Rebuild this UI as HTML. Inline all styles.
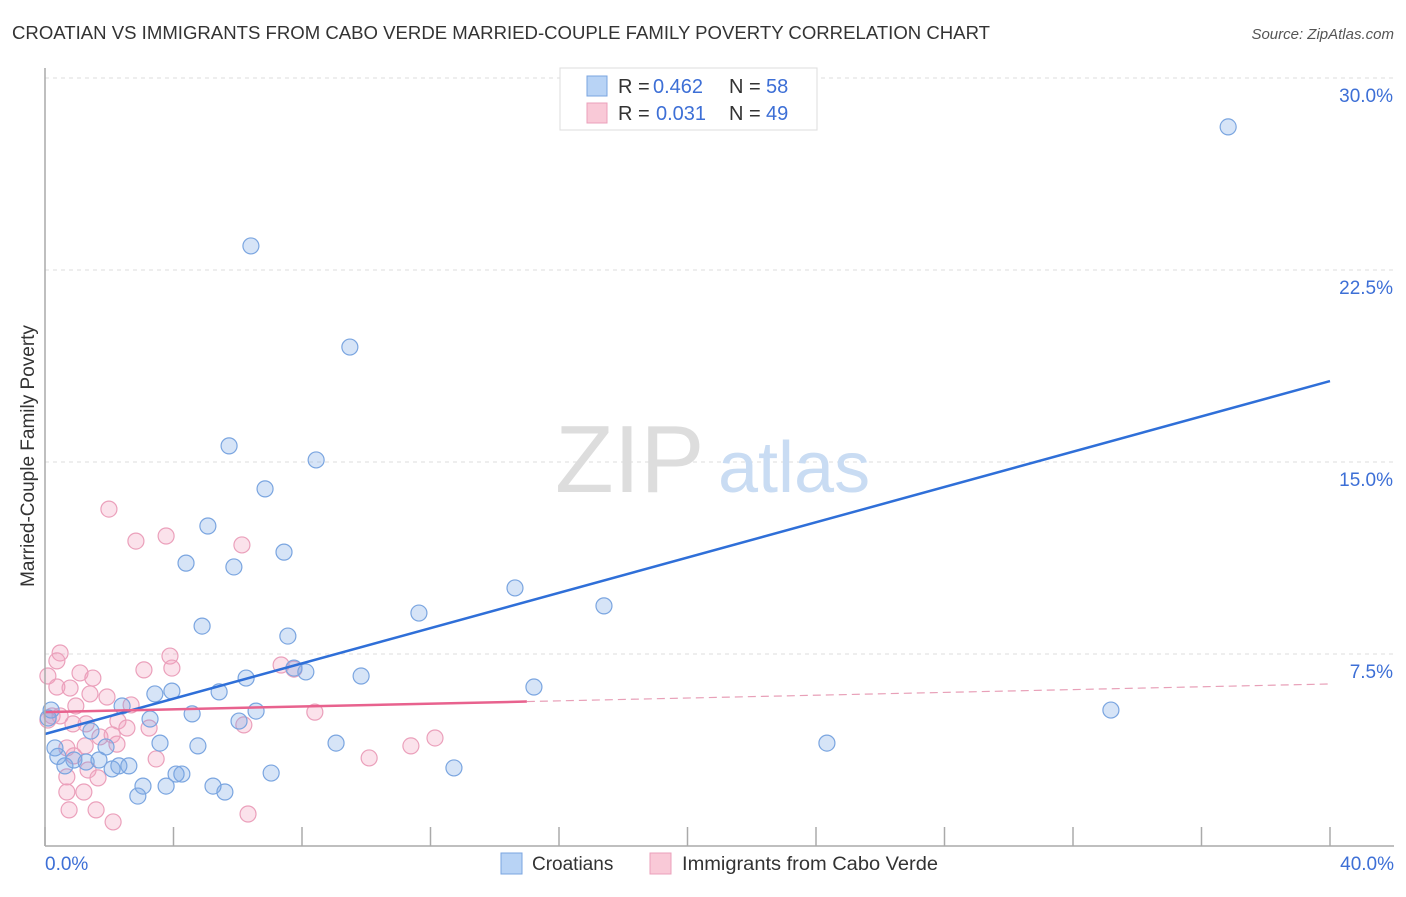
<!DOCTYPE html>
<html><head><meta charset="utf-8">
<style>
body{margin:0;background:#fff;font-family:"Liberation Sans",sans-serif;}
svg text{font-family:"Liberation Sans",sans-serif;}
</style></head>
<body>
<svg id="chart" width="1406" height="892" viewBox="0 0 1406 892">
<text x="12" y="39" font-size="18" fill="#333" textLength="978" lengthAdjust="spacingAndGlyphs">CROATIAN VS IMMIGRANTS FROM CABO VERDE MARRIED-COUPLE FAMILY POVERTY CORRELATION CHART</text>
<text x="1394" y="39" font-size="15" fill="#555" font-style="italic" text-anchor="end">Source: ZipAtlas.com</text>
<g id="grid"></g>
<text x="555" y="492" font-size="96" fill="#ddd" font-family="Liberation Serif">ZIP</text>
<text x="718" y="492" font-size="72" fill="#c9dcf3">atlas</text>
<g id="pts"></g>
<g id="lines"></g>
<line x1="45" y1="68" x2="45" y2="846" stroke="#aaa" stroke-width="1.5"/>
<line x1="45" y1="846" x2="1394" y2="846" stroke="#aaa" stroke-width="1.5"/>
<g id="ticks"></g>
<text x="0" y="0" font-size="19" fill="#333" text-anchor="middle" transform="translate(34 456) rotate(-90)">Married-Couple Family Poverty</text>
<text x="45" y="870" font-size="19" fill="#3d6fd6">0.0%</text>
<text x="1394" y="870" font-size="19" fill="#3d6fd6" text-anchor="end">40.0%</text>
<g>
<rect x="560" y="68" width="257" height="62" fill="#fff" stroke="#ddd"/>
<rect x="587" y="76" width="20" height="20" fill="#b8d3f5" stroke="#7aa5e0"/>
<rect x="587" y="103" width="20" height="20" fill="#f9c9d7" stroke="#eba0bb"/>
<text x="618" y="93" font-size="20" fill="#333">R =</text>
<text x="653" y="93" font-size="20" fill="#3d6fd6">0.462</text>
<text x="729" y="93" font-size="20" fill="#333">N =</text>
<text x="766" y="93" font-size="20" fill="#3d6fd6">58</text>
<text x="618" y="120" font-size="20" fill="#333">R =</text>
<text x="656" y="120" font-size="20" fill="#3d6fd6">0.031</text>
<text x="729" y="120" font-size="20" fill="#333">N =</text>
<text x="766" y="120" font-size="20" fill="#3d6fd6">49</text>
</g>
<g>
<rect x="501" y="853" width="21" height="21" fill="#b8d3f5" stroke="#7aa5e0"/>
<text x="532" y="870" font-size="19" fill="#333">Croatians</text>
<rect x="650" y="853" width="21" height="21" fill="#f9c9d7" stroke="#eba0bb"/>
<text x="682" y="870" font-size="19" fill="#333" textLength="256" lengthAdjust="spacingAndGlyphs">Immigrants from Cabo Verde</text>
</g>
</svg>
<script>
const yTicks=[7.5,15,22.5,30];
const yTickLabels=["7.5%","15.0%","22.5%","30.0%"];
const xTicks=[0,4,8,12,16,20,24,28,32,36,40];
const blueX=[36.83,6.41,9.49,5.73,8.44,6.85,5.07,7.44,4.39,5.88,14.63,11.64,17.4,4.89,7.56,6.26,7.75,8.12,9.84,15.22,3.42,3.95,5.42,2.4,4.58,6.57,3.27,6.04,33.18,0.19,1.43,0.31,1.9,3.58,4.76,9.06,24.34,0.62,0.9,1.28,1.68,2.09,2.3,2.61,4.08,4.26,7.04,12.73,3.05,3.77,5.23,5.6,2.89,0.1,0.4];
const blueY=[28.09,23.44,19.49,15.63,15.08,13.95,12.5,11.48,11.05,10.9,10.08,9.1,9.38,8.59,8.2,6.56,6.95,6.8,6.64,6.21,5.94,6.05,6.02,5.47,5.16,5.27,4.96,4.88,5.31,5.31,4.49,3.83,3.87,4.02,3.91,4.02,4.02,3.13,3.36,3.28,3.36,3.01,3.13,3.13,2.81,2.81,2.85,3.05,2.34,2.34,2.34,2.11,1.95,5.0,3.5];
const pinkX=[1.99,2.83,3.77,6.13,0.47,0.37,3.89,3.08,3.95,1.09,1.49,0.09,0.37,0.78,1.93,1.4,7.35,7.75,0.96,2.68,0.22,0.47,0.09,0.87,1.28,2.27,3.24,6.19,8.4,1.71,2.09,2.55,0.68,1.25,2.24,3.46,10.09,11.39,12.14,0.9,1.34,0.68,1.65,0.68,1.21,0.75,1.59,2.12,6.32];
const pinkY=[13.16,11.91,12.11,11.76,7.54,7.23,7.42,6.88,6.95,6.76,6.56,6.64,6.21,6.17,5.82,5.94,7.07,6.91,5.47,5.51,5.08,5.08,4.92,4.77,4.77,4.88,4.61,4.73,5.23,4.26,4.34,4.61,3.83,3.91,3.98,3.4,3.44,3.91,4.22,3.52,2.97,2.7,2.66,2.11,2.11,1.41,1.41,0.94,1.25];
const blueTrend=[4.375,18.16];
const pinkTrend=[5.23,6.33];
const pinkSolidEnd=15;
const NS="http://www.w3.org/2000/svg";
const sx=v=>45+v*32.125, sy=v=>846-v*25.6;
function mk(t,a,p){const e=document.createElementNS(NS,t);for(const k in a)e.setAttribute(k,a[k]);p.appendChild(e);return e;}
const grid=document.getElementById('grid');
yTicks.forEach((v,i)=>{
 const l=mk('line',{x1:45,x2:1394,y1:sy(v),y2:sy(v),stroke:'#ddd','stroke-dasharray':'4,4'},grid);
 
 
 const t=mk('text',{x:1393,y:sy(v)+24,'font-size':19,fill:'#3d6fd6','text-anchor':'end'},grid);
 t.textContent=yTickLabels[i];
 
 
});
const ticks=document.getElementById('ticks');
xTicks.forEach(v=>{
 const l=mk('line',{x1:sx(v),x2:sx(v),y1:827,y2:846,stroke:'#aaa','stroke-width':1.5},ticks);
 
 
});
const pts=document.getElementById('pts');
pinkX.forEach((x,i)=>{
 const c=mk('circle',{cx:sx(x),cy:sy(pinkY[i]),r:8,fill:'rgba(243,160,188,0.3)',stroke:'#eba0bb','stroke-width':1.2},pts);
 
 
});
blueX.forEach((x,i)=>{
 const c=mk('circle',{cx:sx(x),cy:sy(blueY[i]),r:8,fill:'rgba(120,165,230,0.3)',stroke:'#7aa5e0','stroke-width':1.2},pts);
 
 
});
const lines=document.getElementById('lines');
const bl=mk('line',{x1:sx(0),y1:sy(blueTrend[0]),x2:sx(40),y2:sy(blueTrend[1]),stroke:'#2f6fd8','stroke-width':2.5},lines);


const pAt=v=>pinkTrend[0]+(pinkTrend[1]-pinkTrend[0])*v/40;
const pl=mk('line',{x1:sx(0),y1:sy(pinkTrend[0]),x2:sx(pinkSolidEnd),y2:sy(pAt(pinkSolidEnd)),stroke:'#e8628e','stroke-width':2.5},lines);


const pd=mk('line',{x1:sx(pinkSolidEnd),y1:sy(pAt(pinkSolidEnd)),x2:sx(40),y2:sy(pinkTrend[1]),stroke:'#e8a0b8','stroke-width':1.2,'stroke-dasharray':'8,5'},lines);


</script>
</body></html>
